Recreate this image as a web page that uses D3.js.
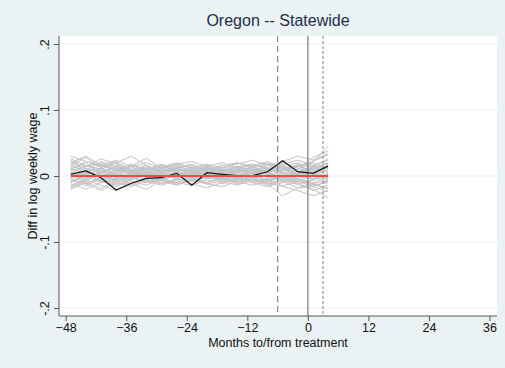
<!DOCTYPE html>
<html>
<head>
<meta charset="utf-8">
<script src="https://cdn.jsdelivr.net/npm/d3@7"></script>
<style>
  html, body { margin: 0; padding: 0; background: #eaf2f3; }
  svg { display: block; font-family: "Liberation Sans", Arial, sans-serif; }
</style>
</head>
<body>
<svg id="chart" width="505" height="368"></svg>
<script>
// Quarterly event-time grid (months relative to treatment)
const months = [-47, -44, -41, -38, -35, -32, -29, -26, -23, -20, -17, -14, -11, -8, -5, -2, 1, 4];

// Treated state (Oregon, statewide)
const oregon = [0.0026, 0.0076, -0.0026, -0.0212, -0.011, -0.0035, -0.0026, 0.0041, -0.014,
                0.005, 0.0026, 0.0005, 0.0005, 0.0065, 0.023, 0.0065, 0.004, 0.015];

// Placebo states
const placebo = [
  [.030,.022,.014,.020,.010,.016,.008,.014,.018,.010,.016,.020,.012,.018,.010,.014,.022,.032],
  [.016,.028,.012,.004,.014,.006,.012,.016,.008,.013,.006,.010,.017,.012,.008,.018,.014,.026],
  [-.010,.003,.018,.008,-.004,.005,.011,.006,.002,.009,.013,.006,.010,.004,.015,.010,.021,.045],
  [.021,.010,-.002,.007,.015,.027,.012,.004,.009,.002,.006,.015,.008,.013,.006,.002,.011,.006],
  [-.006,-.015,-.004,-.011,-.002,-.009,-.004,-.013,-.006,-.002,-.008,-.003,-.010,-.006,-.015,-.008,-.016,-.024],
  [.005,-.009,-.019,-.006,.004,-.002,-.011,-.004,-.008,-.001,-.006,.002,-.004,-.011,-.006,-.013,-.020,-.033],
  [.024,.006,.012,.022,.008,.002,.010,.018,.012,.006,.010,.004,.014,.020,.012,.016,.008,.014],
  [-.014,-.004,.008,-.002,-.012,-.020,-.006,.002,-.004,-.010,-.002,-.008,-.004,.002,-.008,-.018,-.012,-.006],
  [.010,.020,.004,-.006,.002,.010,.016,.006,.000,.006,.002,.008,.004,.010,.020,.012,.004,.016],
  [-.002,.008,.022,.014,.006,.012,.004,-.004,.004,.010,.004,.000,.006,-.002,.004,.010,.028,.038],
  [.018,.004,-.008,.002,-.006,.004,-.002,.006,.012,.004,-.002,.006,.012,.004,-.004,.006,.000,-.010],
  [-.018,-.008,.004,-.010,-.016,-.008,-.014,-.006,-.002,-.010,-.004,-.012,-.006,-.014,-.008,-.004,-.012,-.020],
  [.008,.014,.026,.018,.008,.014,.006,.012,.004,.010,.016,.010,.004,.010,.018,.024,.016,.010],
  [.002,-.012,-.002,.010,.002,-.006,.002,-.004,.004,-.002,.004,-.006,.000,.006,-.004,.004,-.006,.002],
  [.026,.016,.006,.000,.010,.004,.008,.002,.010,.016,.008,.012,.004,.008,.014,.006,.012,.020],
  [-.004,.004,-.008,-.016,-.006,.002,-.006,.000,-.008,-.002,.004,-.004,.002,-.006,.000,-.008,.002,.008],
  [.012,.002,.010,.020,.030,.016,.004,.010,.006,.012,.006,.014,.008,.016,.010,.004,.010,.018],
  [-.012,-.020,-.010,-.002,-.008,-.014,-.004,-.010,-.014,-.006,-.012,-.006,-.002,-.010,-.016,-.022,-.030,-.022],
  [.000,.012,.004,.014,.006,-.002,.006,.012,.016,.008,.002,.008,.014,.006,.012,.004,.014,.006],
  [.020,.030,.016,.008,.016,.010,.018,.010,.006,.014,.020,.012,.016,.022,.010,.002,.008,-.004],
  [-.008,.000,-.010,-.004,.006,-.002,-.008,-.014,-.006,-.012,-.008,-.014,-.006,-.012,-.030,-.018,-.016,-.008],
  [.006,-.004,.004,-.006,-.014,-.004,.004,-.002,.006,.002,-.004,.002,.008,.002,-.006,.000,.006,-.002],
  [.016,.008,.000,.010,.018,.008,.014,.020,.012,.018,.012,.018,.024,.016,.022,.030,.024,.034],
  [-.016,-.006,-.014,-.022,-.012,-.006,-.012,-.006,-.012,-.018,-.010,-.004,-.010,-.016,-.010,-.006,-.014,-.010],
  [.004,.016,.010,.002,-.004,.006,.000,.004,-.002,.004,.010,.002,-.004,.002,.008,.016,.004,-.006],
  [.014,-.002,.006,.012,.004,.010,.016,.008,.014,.006,.012,.020,.014,.006,.012,.002,-.004,.004],
  [-.010,.002,-.006,.004,-.002,-.010,-.002,.004,-.004,.002,-.006,-.002,-.008,-.004,.002,-.006,-.012,-.018],
  [.022,.014,.020,.010,.002,.012,.006,.000,.006,.012,.006,.000,.006,.012,.008,.014,.020,.012],
  [.002,-.006,.006,.016,.006,.000,.008,.014,.004,-.002,.004,.010,.004,.000,.006,-.004,.002,.012],
  [-.004,-.012,-.022,-.010,-.002,-.010,-.004,-.010,-.004,.002,-.004,-.010,-.004,-.008,-.002,-.010,-.022,-.014],
  [.010,.022,.016,.024,.014,.020,.012,.018,.022,.014,.008,.014,.018,.010,.016,.020,.012,.020],
  [-.002,.006,.000,-.008,.000,.008,.002,-.004,.002,-.004,.000,.006,.000,-.006,-.002,.006,.016,.024],
  [.006,.000,.012,.004,.010,.002,-.004,.002,.008,.000,.004,-.002,.004,.010,.004,-.004,-.010,-.002],
  [-.020,-.010,-.004,-.014,-.004,.002,-.006,-.012,-.006,-.012,-.016,-.008,-.014,-.008,-.002,-.012,-.006,.002]
];

// Axis ticks and labels
const xTicks = [-48, -36, -24, -12, 0, 12, 24, 36];
const yTicks = [0.2, 0.1, 0, -0.1, -0.2];
const yTickLabels = [".2", ".1", "0", "-.1", "-.2"];

// Reference event lines (months)
const refLines = [
  { month: -6, dash: "6,4", color: "#8c8c8c", width: 1.2 },
  { month: 0,  dash: null,  color: "#7a7a7a", width: 1.2 },
  { month: 3,  dash: "3,2", color: "#8c8c8c", width: 1.1 }
];

const svg = d3.select("#chart");
const W = 505, H = 368;
const plot = { left: 59, right: 497, top: 36, bottom: 316 };

svg.append("rect").attr("width", W).attr("height", H).attr("fill", "#eaf2f3");
svg.append("rect")
  .attr("x", plot.left).attr("y", plot.top)
  .attr("width", plot.right - plot.left).attr("height", plot.bottom - plot.top)
  .attr("fill", "#ffffff");

const x = d3.scaleLinear().domain([-48, 36]).range([65.7, 489.5]);
const y = d3.scaleLinear().domain([-0.2, 0.2]).range([308, 44]);

// Horizontal gridlines
svg.append("g").selectAll("line").data(yTicks).join("line")
  .attr("x1", plot.left).attr("x2", plot.right)
  .attr("y1", d => y(d)).attr("y2", d => y(d))
  .attr("stroke", "#eaf2f3").attr("stroke-width", 1);

const line = d3.line().x((d, i) => x(months[i])).y(d => y(d));

// Placebo paths
svg.append("g").selectAll("path").data(placebo).join("path")
  .attr("d", line)
  .attr("fill", "none")
  .attr("stroke", "#c3c3c3")
  .attr("stroke-width", 1);

// Reference vertical lines
svg.append("g").selectAll("line").data(refLines).join("line")
  .attr("x1", d => x(d.month)).attr("x2", d => x(d.month))
  .attr("y1", plot.top).attr("y2", plot.bottom)
  .attr("stroke", d => d.color)
  .attr("stroke-width", d => d.width)
  .attr("stroke-dasharray", d => d.dash);

// Oregon path
svg.append("path").datum(oregon)
  .attr("d", line)
  .attr("fill", "none")
  .attr("stroke", "#111111")
  .attr("stroke-width", 1.2);

// Zero reference over the event window
svg.append("line")
  .attr("x1", x(months[0])).attr("x2", x(months[months.length - 1]))
  .attr("y1", y(0)).attr("y2", y(0))
  .attr("stroke", "#ee4b4b").attr("stroke-width", 2);

// Axes
const xAxis = d3.axisBottom(x).tickValues(xTicks).tickSize(5).tickPadding(2).tickFormat(d3.format("d"));
const gx = svg.append("g").attr("transform", `translate(0,${plot.bottom})`).call(xAxis);
gx.select(".domain").attr("d", `M${plot.left},0H${plot.right}`).attr("stroke", "#555");
gx.selectAll(".tick line").attr("stroke", "#555");
gx.selectAll(".tick text").attr("font-size", 12.5).attr("fill", "#111")
  .attr("font-family", "Liberation Sans, Arial, sans-serif");

const yAxis = d3.axisLeft(y).tickValues(yTicks).tickSize(5).tickFormat((d, i) => yTickLabels[i]);
const gy = svg.append("g").attr("transform", `translate(${plot.left},0)`).call(yAxis);
gy.select(".domain").attr("d", `M0,${plot.top}V${plot.bottom}`).attr("stroke", "#555");
gy.selectAll(".tick line").attr("stroke", "#555");
gy.selectAll(".tick text")
  .attr("x", null).attr("dy", null)
  .attr("transform", "translate(-10,0) rotate(-90)")
  .attr("text-anchor", "middle")
  .attr("font-size", 12.5).attr("fill", "#111")
  .attr("font-family", "Liberation Sans, Arial, sans-serif");

// Titles
svg.append("text")
  .attr("x", (plot.left + plot.right) / 2).attr("y", 26)
  .attr("text-anchor", "middle")
  .attr("font-size", 16).attr("fill", "#1e2d4e")
  .text("Oregon -- Statewide");

svg.append("text")
  .attr("x", (plot.left + plot.right) / 2).attr("y", 347)
  .attr("text-anchor", "middle")
  .attr("font-size", 12.5).attr("fill", "#111")
  .text("Months to/from treatment");

svg.append("text")
  .attr("transform", `translate(37,${(plot.top + plot.bottom) / 2}) rotate(-90)`)
  .attr("text-anchor", "middle")
  .attr("font-size", 12.5).attr("fill", "#111")
  .text("Diff in log weekly wage");
</script>
</body>
</html>
